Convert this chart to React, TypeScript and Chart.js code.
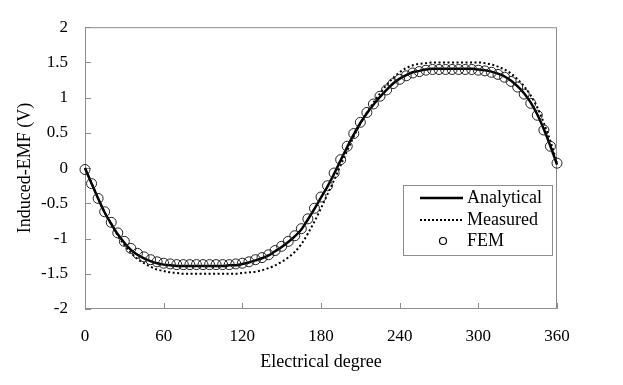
import React, { useEffect, useRef } from "react";
import { Chart, registerables } from "chart.js";

Chart.register(...registerables);

const degrees = [
  0, 5, 10, 15, 20, 25, 30, 35, 40, 45, 50, 55, 60, 65, 70, 75, 80, 85, 90, 95,
  100, 105, 110, 115, 120, 125, 130, 135, 140, 145, 150, 155, 160, 165, 170, 175,
  180, 185, 190, 195, 200, 205, 210, 215, 220, 225, 230, 235, 240, 245, 250, 255,
  260, 265, 270, 275, 280, 285, 290, 295, 300, 305, 310, 315, 320, 325, 330, 335,
  340, 345, 350, 355, 360,
];

const analytical = [
  0.0, -0.22, -0.43, -0.63, -0.79, -0.94, -1.06, -1.16, -1.23, -1.28, -1.32, -1.35,
  -1.37, -1.38, -1.39, -1.39, -1.39, -1.39, -1.39, -1.39, -1.39, -1.39, -1.38, -1.38,
  -1.36, -1.34, -1.31, -1.28, -1.24, -1.18, -1.12, -1.05, -0.97, -0.87, -0.73, -0.58,
  -0.42, -0.26, -0.08, 0.11, 0.3, 0.48, 0.64, 0.78, 0.9, 1.01, 1.11, 1.2, 1.27,
  1.32, 1.36, 1.38, 1.4, 1.41, 1.41, 1.41, 1.41, 1.41, 1.41, 1.41, 1.4, 1.39, 1.37,
  1.34, 1.3, 1.24, 1.16, 1.06, 0.93, 0.76, 0.55, 0.31, 0.05,
];

const measured = [
  0.0, -0.21, -0.43, -0.63, -0.8, -0.96, -1.09, -1.2, -1.29, -1.35, -1.4, -1.44,
  -1.46, -1.48, -1.49, -1.5, -1.5, -1.5, -1.5, -1.5, -1.5, -1.5, -1.5, -1.5, -1.49,
  -1.48, -1.47, -1.45, -1.42, -1.38, -1.33, -1.27, -1.19, -1.08, -0.93, -0.76, -0.57,
  -0.37, -0.17, 0.04, 0.25, 0.45, 0.63, 0.79, 0.93, 1.06, 1.18, 1.28, 1.36, 1.42,
  1.46, 1.48, 1.49, 1.5, 1.5, 1.5, 1.5, 1.5, 1.5, 1.5, 1.5, 1.49, 1.47, 1.44, 1.4,
  1.34, 1.26, 1.16, 1.03, 0.86, 0.64, 0.38, 0.08,
];

const fem = [
  -0.02, -0.22, -0.43, -0.62, -0.77, -0.92, -1.04, -1.14, -1.21, -1.26, -1.3, -1.33,
  -1.35, -1.36, -1.37, -1.37, -1.37, -1.37, -1.37, -1.37, -1.37, -1.37, -1.37, -1.36,
  -1.35, -1.33, -1.3, -1.27, -1.23, -1.17, -1.11, -1.04, -0.96, -0.86, -0.72, -0.57,
  -0.41, -0.25, -0.07, 0.12, 0.31, 0.49, 0.65, 0.79, 0.91, 1.02, 1.11, 1.2, 1.26,
  1.31, 1.35, 1.37, 1.39, 1.4, 1.4, 1.4, 1.4, 1.4, 1.4, 1.4, 1.39, 1.38, 1.36, 1.33,
  1.29, 1.23, 1.15, 1.05, 0.92, 0.75, 0.54, 0.31, 0.07,
];

const xTicks = [0, 60, 120, 180, 240, 300, 360];
const yTicks = [-2, -1.5, -1, -0.5, 0, 0.5, 1, 1.5, 2];
const seriesNames = ["Analytical", "Measured", "FEM"];

const FONT = "'Liberation Serif', 'Times New Roman', serif";
const AXIS_GRAY = "#8c8c8c";

const framePlugin = {
  id: "frameTicks",
  beforeDatasetsDraw(chart: any) {
    const { ctx, chartArea, scales } = chart;
    const { left, right, top, bottom } = chartArea;
    ctx.save();
    ctx.strokeStyle = AXIS_GRAY;
    ctx.lineWidth = 1;
    ctx.beginPath();
    ctx.rect(left + 0.5, top + 0.5, right - left - 1, bottom - top - 1);
    ctx.stroke();
    ctx.beginPath();
    xTicks.forEach((v) => {
      const px = Math.round(scales.x.getPixelForValue(v)) + 0.5;
      ctx.moveTo(px, bottom);
      ctx.lineTo(px, bottom - 6);
    });
    yTicks.forEach((v) => {
      const py = Math.round(scales.y.getPixelForValue(v)) + 0.5;
      ctx.moveTo(left, py);
      ctx.lineTo(left + 6, py);
    });
    ctx.stroke();
    ctx.restore();
  },
};

const legendPlugin = {
  id: "boxLegend",
  afterDraw(chart: any) {
    const { ctx } = chart;
    const bx = 403.5, by = 185.5, bw = 149, bh = 70;
    ctx.save();
    ctx.fillStyle = "#ffffff";
    ctx.fillRect(bx, by, bw, bh);
    ctx.strokeStyle = AXIS_GRAY;
    ctx.lineWidth = 1;
    ctx.strokeRect(bx, by, bw, bh);
    const rows = [198, 220, 241];
    ctx.font = `18px ${FONT}`;
    ctx.textBaseline = "middle";
    ctx.textAlign = "left";
    ctx.fillStyle = "#000";
    chart.data.datasets.forEach((ds: any, i: number) => {
      const y = rows[i];
      ctx.save();
      ctx.strokeStyle = "#000";
      if (i === 0) {
        ctx.lineWidth = 2.5;
        ctx.beginPath();
        ctx.moveTo(420, y);
        ctx.lineTo(463, y);
        ctx.stroke();
      } else if (i === 1) {
        ctx.lineWidth = 2;
        ctx.setLineDash([2, 2]);
        ctx.beginPath();
        ctx.moveTo(420, y);
        ctx.lineTo(463, y);
        ctx.stroke();
      } else {
        ctx.lineWidth = 1.2;
        ctx.beginPath();
        ctx.arc(443, y, 3.5, 0, Math.PI * 2);
        ctx.stroke();
      }
      ctx.restore();
      ctx.fillText(ds.label, 467, y);
    });
    ctx.restore();
  },
};

export default function App() {
  const canvasRef = useRef<HTMLCanvasElement | null>(null);

  useEffect(() => {
    document.body.style.margin = "0";
    const canvas = canvasRef.current;
    if (!canvas) return;
    const toPts = (vals: number[]) => degrees.map((d, i) => ({ x: d, y: vals[i] }));
    const chart = new Chart(canvas, {
      type: "line",
      data: {
        datasets: [
          {
            label: seriesNames[0],
            data: toPts(analytical),
            borderColor: "#000",
            borderWidth: 2.5,
            pointRadius: 0,
            cubicInterpolationMode: "monotone",
            fill: false,
            clip: false,
            order: 2,
          },
          {
            label: seriesNames[1],
            data: toPts(measured),
            borderColor: "#000",
            borderWidth: 2,
            borderDash: [2, 2.5],
            pointRadius: 0,
            cubicInterpolationMode: "monotone",
            fill: false,
            clip: false,
            order: 3,
          },
          {
            label: seriesNames[2],
            data: toPts(fem),
            showLine: false,
            pointRadius: 5,
            pointBorderWidth: 1,
            pointBorderColor: "#222",
            pointBackgroundColor: "rgba(255,255,255,0)",
            borderColor: "#222",
            clip: false,
            order: 1,
          },
        ],
      },
      options: {
        animation: false,
        responsive: false,
        maintainAspectRatio: false,
        events: [],
        layout: { padding: { top: 10, right: 66, bottom: 0, left: 0 } },
        plugins: {
          legend: { display: false },
          tooltip: { enabled: false },
        },
        scales: {
          x: {
            type: "linear",
            min: 0,
            max: 360,
            afterBuildTicks: (scale: any) => {
              scale.ticks = xTicks.map((v) => ({ value: v }));
            },
            afterFit: (scale: any) => {
              scale.height = 76;
            },
            grid: { display: false, drawTicks: false },
            border: { display: false },
            ticks: {
              padding: 17,
              color: "#000",
              font: { family: FONT, size: 17 },
              maxRotation: 0,
              autoSkip: false,
              callback: (v: any) => String(v),
            },
            title: {
              display: true,
              text: "Electrical degree",
              color: "#000",
              font: { family: FONT, size: 18 },
              padding: { top: 0, bottom: 12 },
            },
          },
          y: {
            type: "linear",
            min: -2,
            max: 2,
            afterBuildTicks: (scale: any) => {
              scale.ticks = yTicks.map((v) => ({ value: v }));
            },
            afterFit: (scale: any) => {
              scale.width = 85;
            },
            grid: { display: false, drawTicks: false },
            border: { display: false },
            ticks: {
              padding: 17,
              color: "#000",
              font: { family: FONT, size: 17 },
              autoSkip: false,
              callback: (v: any) => String(v),
            },
            title: {
              display: true,
              text: "Induced-EMF (V)",
              color: "#000",
              font: { family: FONT, size: 18 },
              padding: { top: 14, bottom: 0 },
            },
          },
        },
      },
      plugins: [framePlugin, legendPlugin],
    });
    return () => chart.destroy();
  }, []);

  return (
    <div style={{ position: "absolute", left: 0, top: 0, width: 623, height: 385 }}>
      <canvas ref={canvasRef} width={623} height={385} style={{ width: 623, height: 385 }} />
    </div>
  );
}
